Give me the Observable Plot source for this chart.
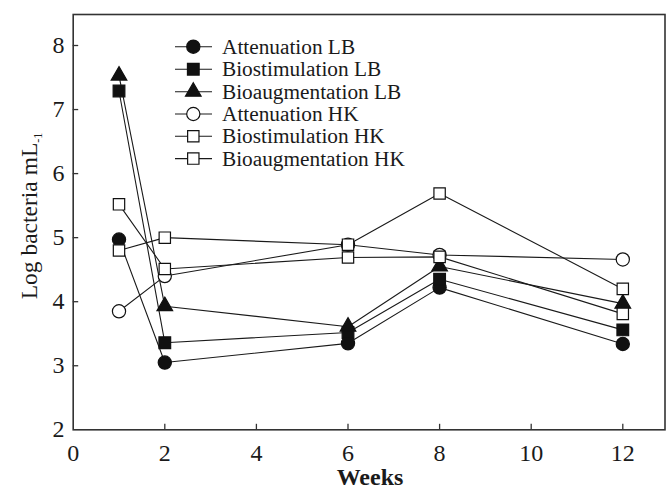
<!DOCTYPE html>
<html>
<head>
<meta charset="utf-8">
<script src="https://cdn.jsdelivr.net/npm/d3@7"></script>
<script src="https://cdn.jsdelivr.net/npm/@observablehq/plot@0.6"></script>
<style>
  html, body { margin: 0; padding: 0; background: #fff; }
  #chart svg { display: block; }
</style>
</head>
<body>
<div id="chart"></div>
<script>
const weeks = [1, 2, 6, 8, 12];
const seriesNames = ["Attenuation LB", "Biostimulation LB", "Bioaugmentation LB", "Attenuation HK", "Biostimulation HK", "Bioaugmentation HK"];
const attenuationLB = [4.97, 3.05, 3.35, 4.22, 3.34];
const biostimulationLB = [7.29, 3.36, 3.52, 4.35, 3.56];
const bioaugmentationLB = [7.53, 3.93, 3.61, 4.55, 3.97];
const attenuationHK = [3.85, 4.40, 4.89, 4.73, 4.66];
const biostimulationHK = [4.80, 5.00, 4.89, 5.69, 4.20];
const bioaugmentationHK = [5.52, 4.51, 4.69, 4.70, 3.81];
const xTicks = [0, 2, 4, 6, 8, 10, 12];
const yTicks = [2, 3, 4, 5, 6, 7, 8];

const seriesValues = [attenuationLB, biostimulationLB, bioaugmentationLB, attenuationHK, biostimulationHK, bioaugmentationHK];
const styles = [
  {symbol: "circle", fill: "#111", r: 6.6},
  {symbol: "square", fill: "#111", r: 6.6},
  {symbol: "triangle", fill: "#111", r: 5.8},
  {symbol: "circle", fill: "#fff", r: 6.6},
  {symbol: "square", fill: "#fff", r: 6.4},
  {symbol: "square", fill: "#fff", r: 6.4}
];

const rows = seriesNames.map((name, i) => weeks.map((w, j) => ({series: name, week: w, value: seriesValues[i][j]})));

const W = 666, H = 495;
const mL = 72.7, mR = 1.5, mT = 14, mB = 65.7;
const plotW = W - mL - mR, plotH = H - mT - mB;
const serif = "Liberation Serif, Times New Roman, serif";

const marks = [];
rows.forEach(r => marks.push(Plot.line(r, {x: "week", y: "value", stroke: "#1a1a1a", strokeWidth: 1.1})));
const order = [3, 0, 1, 2, 4, 5];
order.forEach(i => {
  const s = styles[i];
  marks.push(Plot.dot(rows[i], {x: "week", y: "value", symbol: () => s.symbol, r: s.r, fill: s.fill, stroke: "#111", strokeWidth: 1.2}));
});
marks.push(Plot.tickY(yTicks.slice(1), {y: d => d, stroke: "#333", strokeWidth: 1.3, insetRight: plotW - 5.5}));
marks.push(Plot.tickX(xTicks.slice(1), {x: d => d, stroke: "#333", strokeWidth: 1.3, insetTop: plotH - 5.5}));
marks.push(Plot.frame({stroke: "#333", strokeWidth: 1.6}));
marks.push(Plot.axisX({ticks: xTicks, tickSize: 0, tickPadding: 14.5, label: null, fontSize: 24, fontFamily: serif, tickFormat: d => String(d)}));
marks.push(Plot.axisY({ticks: yTicks, tickSize: 0, tickPadding: 8.7, label: null, fontSize: 24, fontFamily: serif, tickFormat: d => String(d)}));

const chart = Plot.plot({
  width: W, height: H,
  marginLeft: mL, marginRight: mR, marginTop: mT, marginBottom: mB,
  x: {domain: [0, (W - mR - mL) / 45.8]},
  y: {domain: [2, 2 + plotH / 64.05]},
  symbol: {type: "identity"},
  style: {fontFamily: serif, color: "#1a1a1a", background: "#fff", overflow: "visible"},
  marks
});
document.getElementById("chart").appendChild(chart);

const svg = d3.select(chart);
svg.attr("font-family", serif);
svg.selectAll("text").attr("font-family", serif);
// axis titles
svg.append("text")
  .attr("x", 370).attr("y", 485)
  .attr("text-anchor", "middle")
  .attr("font-family", serif).attr("font-weight", "bold").attr("font-size", 24)
  .attr("fill", "#1a1a1a")
  .text("Weeks");
const yl = svg.append("text")
  .attr("transform", "translate(37,216) rotate(-90)")
  .attr("text-anchor", "middle")
  .attr("font-family", serif).attr("font-size", 23.5)
  .attr("fill", "#1a1a1a");
yl.append("tspan").text("Log bacteria mL");
yl.append("tspan").attr("font-size", 12).attr("dy", 5).text("-1");

// legend
const legendRows = [46.7, 69.2, 91.7, 114, 136.3, 158.6];
const lg = svg.append("g").attr("font-family", serif).attr("font-size", 21.3).attr("fill", "#1a1a1a").attr("text-anchor", "start");
seriesNames.forEach((name, i) => {
  const s = styles[i];
  const cy = legendRows[i];
  const g = lg.append("g");
  g.append("line").attr("x1", 175).attr("x2", 212).attr("y1", cy).attr("y2", cy).attr("stroke", "#1a1a1a").attr("stroke-width", 1.1);
  const sym = s.symbol === "circle" ? d3.symbolCircle : s.symbol === "square" ? d3.symbolSquare : d3.symbolTriangle;
  g.append("path")
    .attr("d", d3.symbol(sym, Math.PI * s.r * s.r)())
    .attr("transform", `translate(193.3,${cy})`)
    .attr("fill", s.fill).attr("stroke", "#111").attr("stroke-width", 1.2);
  g.append("text").attr("x", 222).attr("y", cy + 7).attr("text-anchor", "start").text(name);
});
</script>
</body>
</html>
